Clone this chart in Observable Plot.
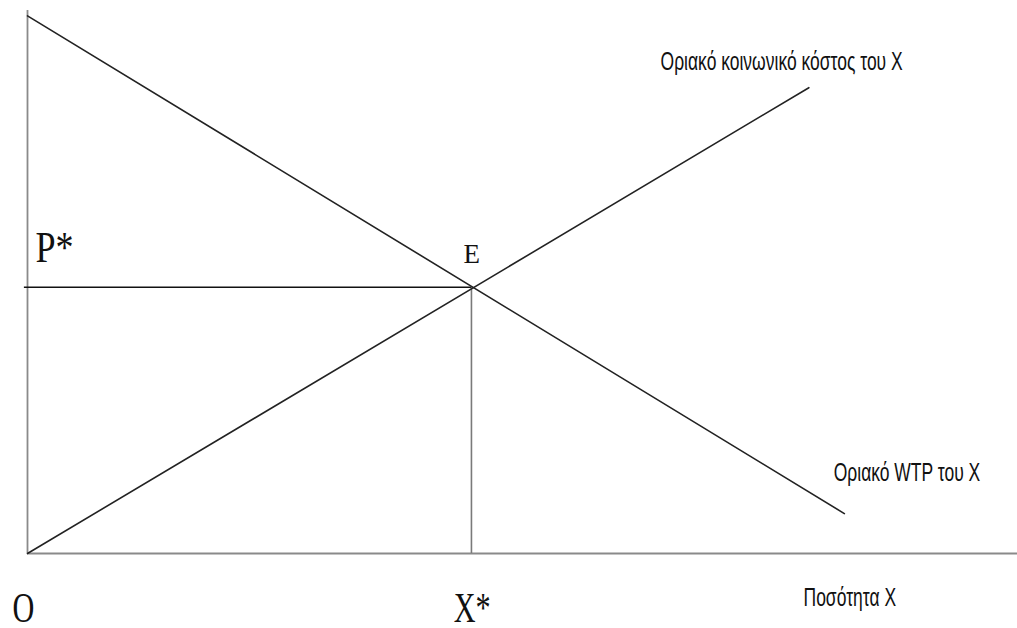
<!DOCTYPE html>
<html><head><meta charset="utf-8">
<script src="https://cdn.jsdelivr.net/npm/d3@7"></script>
<script src="https://cdn.jsdelivr.net/npm/@observablehq/plot@0.6"></script>
<style>body{margin:0;background:#fff;overflow:hidden}</style>
</head><body><div id="chart"></div>
<script>
// Axis extents (quantity, price)
const quantityExtent = [0, 111.5];
const priceExtent = [0, 102];
// Marginal WTP (demand) line endpoints
const demandQ = [0, 92];
const demandP = [101, 7.5];
// Marginal social cost (supply) line endpoints
const supplyQ = [0, 88];
const supplyP = [0, 87.5];
// Equilibrium
const eqQ = 50;
const eqP = 50;
// Point labels (serif)
const pLabel = ["P*"];
const pLabelQ = [0.9];
const pLabelP = [54.7];
const eLabel = ["E"];
const eLabelQ = [49.1];
const eLabelP = [54.5];
const bottomLabels = ["O", "X*"];
const bottomLabelQ = [-1.7, 48];
const bottomLabelP = [-12.9, -12.9];
// Curve / axis labels (sans)
const curveLabels = ["Οριακό κοινωνικό κόστος του X", "Οριακό WTP του X", "Ποσότητα X"];
const curveLabelQ = [71.3, 90.8, 87.4];
const curveLabelP = [90.8, 13.7, -9.8];

const demand = demandQ.map((q, i) => ({q, p: demandP[i]}));
const supply = supplyQ.map((q, i) => ({q, p: supplyP[i]}));
const mk = (t, Q, P) => t.map((text, i) => ({text, q: Q[i], p: P[i]}));

const plot = Plot.plot({
  width: 1017,
  height: 628,
  margin: 0,
  x: {domain: quantityExtent, range: [27, 1017], axis: null},
  y: {domain: priceExtent, range: [553, 10], axis: null},
  style: {background: "#fff"},
  marks: [
    Plot.ruleX([0], {y1: priceExtent[0], y2: priceExtent[1], stroke: "#8a8a8a", strokeWidth: 1.8}),
    Plot.ruleY([0], {x1: quantityExtent[0], x2: quantityExtent[1], stroke: "#8a8a8a", strokeWidth: 1.8}),
    Plot.ruleX([eqQ], {y1: 0, y2: eqP, stroke: "#7a7a7a", strokeWidth: 1.6}),
    Plot.ruleY([eqP], {x1: -0.35, x2: eqQ, stroke: "#111", strokeWidth: 1.6}),
    Plot.line(demand, {x: "q", y: "p", stroke: "#222", strokeWidth: 1.6}),
    Plot.line(supply, {x: "q", y: "p", stroke: "#222", strokeWidth: 1.6}),
    Plot.text(mk(pLabel, pLabelQ, pLabelP), {x: "q", y: "p", text: "text", textAnchor: "start", lineAnchor: "bottom", fontSize: 44, fontFamily: "Liberation Serif", fill: "#111"}),
    Plot.text(mk(eLabel, eLabelQ, eLabelP), {x: "q", y: "p", text: "text", textAnchor: "start", lineAnchor: "bottom", fontSize: 27, fontFamily: "Liberation Serif", fill: "#111"}),
    Plot.text(mk(bottomLabels, bottomLabelQ, bottomLabelP), {x: "q", y: "p", text: "text", textAnchor: "start", lineAnchor: "bottom", fontSize: 42, fontFamily: "Liberation Serif", fill: "#111"}),
    Plot.text(mk(curveLabels, curveLabelQ, curveLabelP), {x: "q", y: "p", text: "text", textAnchor: "start", lineAnchor: "bottom", fontSize: 25, fontFamily: "Liberation Sans", fill: "#111"})
  ]
});
document.getElementById("chart").appendChild(plot);

// Horizontally condense the labels like the original narrow typefaces (text marks in order)
const squeeze = [0.82, 1, 0.72, 0.7];
const groups = plot.querySelectorAll('g[aria-label="text"]');
groups.forEach((g, gi) => {
  const s = squeeze[gi] ?? 1;
  g.querySelectorAll("text").forEach(t => {
    let tr = t.getAttribute("transform");
    if (!tr) {
      const x = t.getAttribute("x") || 0, y = t.getAttribute("y") || 0;
      t.removeAttribute("x"); t.removeAttribute("y");
      tr = `translate(${x},${y})`;
    }
    t.setAttribute("transform", `${tr} scale(${s},1)`);
  });
});
</script>
</body></html>
